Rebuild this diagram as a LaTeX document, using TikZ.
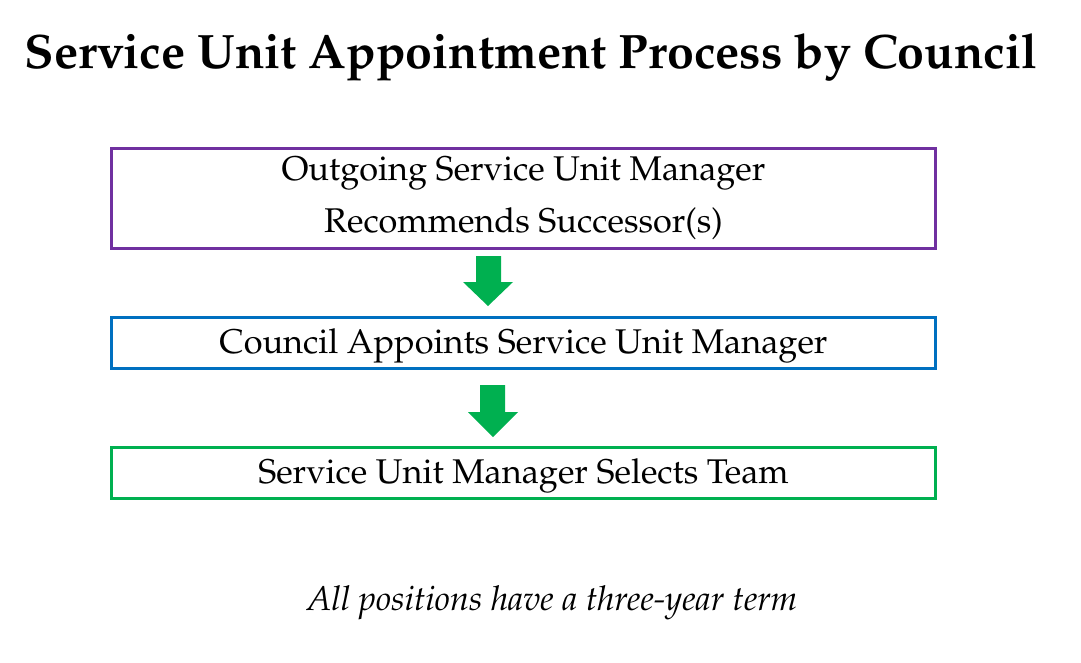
\documentclass[tikz,border=0pt]{standalone}
\usepackage[T1]{fontenc}
\usepackage{mathpazo}
\definecolor{boxpurple}{HTML}{7030A0}
\definecolor{boxblue}{HTML}{0070C0}
\definecolor{boxgreen}{HTML}{00B050}
\definecolor{arrowgreen}{HTML}{00B050}
\newcommand{\lowertext}[1]{\raisebox{-3pt}[\height][\depth]{#1}}
\begin{document}
\begin{tikzpicture}[x=1pt,y=-1pt,
  stepbox/.style={draw, line width=3pt, minimum width=824pt, inner sep=0pt, align=center,
    font=\fontsize{34.3}{52}\selectfont},
  blockarrow/.style={fill=arrowgreen, draw=none}]
\useasboundingbox (0,0) rectangle (1081,662);
\node[anchor=base, font=\fontsize{48.3}{58}\bfseries\selectfont] (title) at (531,68) {Service Unit Appointment Process by Council};
\node[stepbox, draw=boxpurple, minimum height=100pt] (b1) at (523.5,198.5) {Outgoing Service Unit Manager\\Recommends Successor(s)};
\node[stepbox, draw=boxblue, minimum height=51pt] (b2) at (523.5,343) {\lowertext{Council Appoints Service Unit Manager}};
\node[stepbox, draw=boxgreen, minimum height=51pt] (b3) at (523.5,473) {\lowertext{Service Unit Manager Selects Team}};
\fill[blockarrow] (476,256) -- (501,256) -- (501,282) -- (513,282) -- (488,306) -- (463,282) -- (476,282) -- cycle;
\fill[blockarrow] (480,385) -- (505,385) -- (505,412) -- (518,412) -- (493,437) -- (468,412) -- (480,412) -- cycle;
\node[anchor=base, font=\fontsize{34.2}{40}\itshape\selectfont] (note) at (552,610) {All positions have a three-year term};
\end{tikzpicture}
\end{document}
